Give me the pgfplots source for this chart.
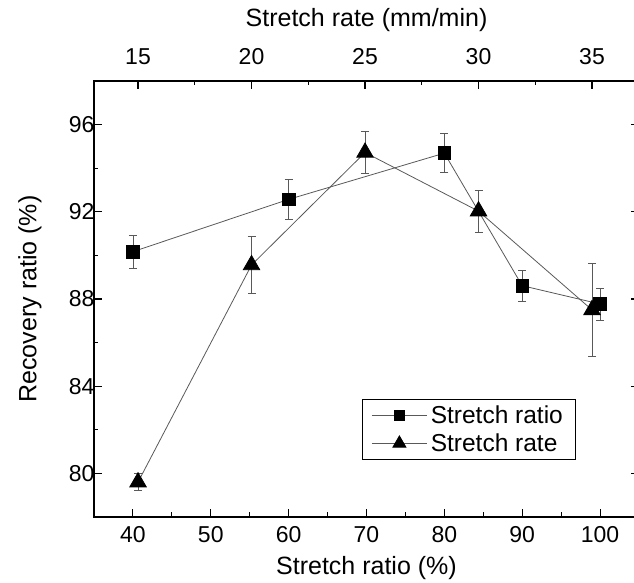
\documentclass[border=0pt]{standalone}
\usepackage{pgfplots}
\pgfplotsset{compat=1.18}
\usepackage{fontspec}
\setmainfont{Liberation Sans}
\usetikzlibrary{calc}
\definecolor{lgray}{gray}{0.35}
\begin{document}
\begin{tikzpicture}
\pgfplotsset{
  common/.style={scale only axis, width=545pt, height=436pt, ymin=78, ymax=98,
    tick align=inside, major tick length=8pt, minor tick length=4.5pt,
    every tick/.style={black, line width=1.1pt},
    axis line style={line width=1.3pt},
    tick label style={font=\fontsize{23}{26}\selectfont},
    label style={font=\fontsize{25}{28}\selectfont},
    /pgf/number format/assume math mode=true,
    clip=false,
  },
  ser/.style={lgray, line width=0.8pt, mark options={black, solid, fill=black},
    /pgfplots/error bars/y dir=both, /pgfplots/error bars/y explicit,
    /pgfplots/error bars/error bar style={lgray, line width=0.7pt},
    /pgfplots/error bars/error mark options={rotate=90, lgray, mark size=4pt, line width=0.7pt}},
}
\begin{axis}[common, name=main,
  xmin=35, xmax=105, xtick={40,50,...,100}, minor xtick={45,55,...,95},
  xtick pos=left,
  ytick={80,84,...,96}, minor ytick={82,86,...,94},
  xticklabel style={anchor=center, yshift=-18pt},
  yticklabel style={anchor=east, xshift=4pt},
  xlabel={Stretch ratio (\%)}, ylabel={Recovery ratio (\%)},
  xlabel style={at={(axis description cs:0.5,0)}, anchor=center, yshift=-51pt},
  ylabel style={at={(axis description cs:0,0.5)}, anchor=center, rotate=0, yshift=64pt},
]
\addplot+[ser, mark=square*, mark size=6.3pt] table[x=x, y=y, y error=e] {
x y e
40 90.17 0.77
60 92.57 0.91
80 94.69 0.89
90 88.61 0.70
100 87.77 0.74
};
\end{axis}
\begin{axis}[common,
  xmin=13.06, xmax=37.07, axis x line*=top, axis y line=none,
  xtick={15,20,...,35}, minor xtick={17.5,22.5,...,32.5},
  xticklabel style={anchor=center, yshift=24pt},
  xlabel={Stretch rate (mm/min)},
  xlabel style={at={(axis description cs:0.5,1)}, anchor=center, yshift=61pt},
  legend cell align=left,
  legend style={at={(0.884,0.132)}, anchor=south east, draw=black, line width=0.8pt,
    font=\fontsize{24.5}{28}\selectfont, row sep=7pt, inner xsep=9pt, inner ysep=5pt,
    nodes={inner xsep=3.5pt, inner ysep=1pt}},
  legend image code/.code={\draw[mark repeat=2, mark phase=2, #1] plot coordinates {(0pt,0pt)(27.5pt,0pt)(55pt,0pt)};},
]
\addlegendimage{lgray, line width=0.8pt, mark=square*, mark size=5pt, mark options={black, fill=black}}
\addlegendentry{Stretch ratio}
\addlegendimage{lgray, line width=0.8pt, mark=triangle*, mark size=7.5pt, mark options={black, fill=black}}
\addlegendentry{Stretch rate}
\addplot+[ser, mark=triangle*, mark size=9.5pt, forget plot] table[x=x, y=y, y error=e] {
x y e
15 79.60 0.40
20 89.56 1.30
25 94.72 0.95
30 92.03 0.97
35 87.50 2.15
};
\end{axis}
\pgfresetboundingbox
\useasboundingbox ($(main.south west)+(-94pt,-65.3pt)$) rectangle ($(main.north east)+(-5pt,81pt)$);
\end{tikzpicture}
\end{document}
